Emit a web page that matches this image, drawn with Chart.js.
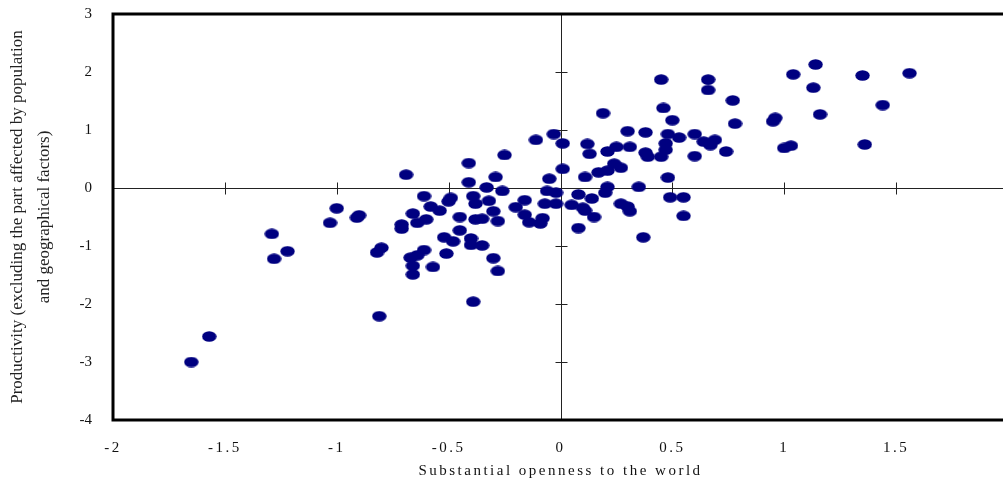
<!DOCTYPE html>
<html>
<head>
<meta charset="utf-8">
<script src="https://cdn.jsdelivr.net/npm/chart.js@4.4.0/dist/chart.umd.min.js"></script>
<style>
html, body { margin: 0; padding: 0; background: #fff; overflow: hidden; }
canvas { display: block; }
</style>
</head>
<body>
<canvas id="scatter" width="1020" height="488"></canvas>
<script>
// values, one entry per country
var openness = [
  -1.65, -1.57, -1.29, -1.22, -1.28, -1.00, -1.03, -0.90, -0.91, -0.80,
  -0.82, -0.81, -0.69, -0.61, -0.58, -0.66, -0.60, -0.64, -0.71, -0.71,
  -0.61, -0.64, -0.67, -0.66, -0.66, -0.57, -0.11, -0.25, -0.41, 0.01,
  -0.05, -0.29, -0.41, -0.33, -0.26, -0.06, -0.02, -0.49, -0.50, -0.39,
  -0.38, -0.32, -0.16, -0.20, -0.07, -0.02, -0.54, -0.30, -0.45, -0.38,
  -0.35, -0.28, -0.16, -0.14, -0.09, -0.08, -0.45, -0.52, -0.48, -0.40,
  -0.40, -0.35, -0.51, -0.30, -0.28, -0.39, 0.19, 0.01, -0.03, 0.30,
  0.38, 0.48, 0.53, 0.60, 0.12, 0.13, 0.21, 0.25, 0.31, 0.47,
  0.47, 0.38, 0.39, 0.45, 0.64, 0.67, 0.69, 0.60, 0.11, 0.17,
  0.21, 0.24, 0.27, 0.48, 0.35, 0.21, 0.20, 0.08, 0.14, 0.05,
  0.10, 0.11, 0.27, 0.30, 0.31, 0.49, 0.55, 0.55, 0.15, 0.08,
  0.37, 1.14, 1.04, 1.35, 1.56, 0.45, 0.66, 0.66, 1.13, 0.77,
  1.44, 0.46, 0.50, 0.78, 0.96, 0.95, 1.16, 0.74, 1.00, 1.03,
  1.36
];
var productivity = [
  -3.00, -2.56, -0.79, -1.09, -1.22, -0.35, -0.60, -0.47, -0.51, -1.03,
  -1.11, -2.21, 0.23, -0.14, -0.32, -0.44, -0.54, -0.60, -0.63, -0.70,
  -1.07, -1.16, -1.20, -1.34, -1.49, -1.36, 0.83, 0.57, 0.43, 0.33,
  0.16, 0.19, 0.10, 0.01, -0.05, -0.05, -0.08, -0.17, -0.23, -0.14,
  -0.27, -0.22, -0.21, -0.33, -0.27, -0.27, -0.39, -0.40, -0.50, -0.54,
  -0.53, -0.57, -0.46, -0.59, -0.61, -0.52, -0.73, -0.85, -0.92, -0.87,
  -0.98, -0.99, -1.13, -1.21, -1.43, -1.96, 1.29, 0.77, 0.93, 0.98,
  0.96, 0.93, 0.87, 0.93, 0.76, 0.59, 0.63, 0.71, 0.71, 0.77,
  0.66, 0.61, 0.54, 0.54, 0.80, 0.74, 0.83, 0.55, 0.19, 0.27,
  0.30, 0.42, 0.35, 0.18, 0.02, 0.02, -0.08, -0.11, -0.18, -0.29,
  -0.34, -0.39, -0.27, -0.32, -0.40, -0.16, -0.16, -0.48, -0.50, -0.69,
  -0.85, 2.13, 1.96, 1.94, 1.98, 1.87, 1.87, 1.69, 1.73, 1.51,
  1.43, 1.38, 1.17, 1.11, 1.21, 1.15, 1.27, 0.63, 0.69, 0.73,
  0.75
];
var x_ticks = [-2, -1.5, -1, -0.5, 0, 0.5, 1, 1.5, 2];
var y_ticks = [-4, -3, -2, -1, 0, 1, 2, 3];

var points = openness.map(function (x, i) {
  return {x: x, y: productivity[i]};
});

// the markers are flat ellipses, so draw one and use it as the point style
var dot = document.createElement('canvas');
dot.width = 15;
dot.height = 11;
var dctx = dot.getContext('2d');
dctx.fillStyle = '#000080';
dctx.beginPath();
dctx.ellipse(7.5, 5.5, 7.2, 5.3, 0, 0, Math.PI * 2);
dctx.fill();

var serif = "'Liberation Serif', 'Times New Roman', serif";

// zero cross lines with their tick marks, and the heavy frame
var cross_axes = {
  id: 'cross_axes',
  beforeDraw: function (chart) {
    chart.ctx.letterSpacing = '2.5px';   // x labels are spaced out
  },
  beforeDatasetsDraw: function (chart) {
    var ctx = chart.ctx;
    ctx.letterSpacing = '0px';
    var a = chart.chartArea;
    var xs = chart.scales.x;
    var ys = chart.scales.y;
    var x0 = Math.round(xs.getPixelForValue(0)) + 0.5;
    var y0 = Math.round(ys.getPixelForValue(0)) + 0.5;
    ctx.save();
    ctx.strokeStyle = '#222';
    ctx.lineWidth = 1;
    ctx.beginPath();
    ctx.moveTo(a.left, y0);
    ctx.lineTo(a.right, y0);
    ctx.moveTo(x0, a.top);
    ctx.lineTo(x0, a.bottom);
    x_ticks.forEach(function (v) {
      var p = Math.round(xs.getPixelForValue(v)) + 0.5;
      ctx.moveTo(p, y0 - 6);
      ctx.lineTo(p, y0 + 6);
    });
    y_ticks.forEach(function (v) {
      var p = Math.round(ys.getPixelForValue(v)) + 0.5;
      ctx.moveTo(x0 - 6, p);
      ctx.lineTo(x0 + 6, p);
    });
    ctx.stroke();
    ctx.lineWidth = 3;
    ctx.strokeStyle = '#000';
    ctx.strokeRect(a.left, a.top, a.right - a.left, a.bottom - a.top);
    ctx.restore();
  }
};

var scatter_chart = new Chart(document.getElementById('scatter'), {
  type: 'scatter',
  data: {
    datasets: [{
      data: points,
      pointStyle: dot,
      pointRadius: 7,
      showLine: false
    }]
  },
  options: {
    responsive: false,
    animation: false,
    events: [],
    layout: {padding: {left: 0, top: 14, right: 12, bottom: 0}},
    plugins: {
      legend: {display: false},
      tooltip: {enabled: false}
    },
    scales: {
      x: {
        type: 'linear',
        min: -2,
        max: 2,
        afterBuildTicks: function (s) {
          s.ticks = x_ticks.map(function (v) { return {value: v}; });
        },
        afterFit: function (s) {
          s.height = 68;
          s.paddingLeft = 0;
          s.paddingRight = 0;
        },
        grid: {display: false, drawTicks: false},
        border: {display: false},
        ticks: {
          padding: 19,
          color: '#111',
          font: {family: serif, size: 15},
          maxRotation: 0,
          autoSkip: false,
          callback: function (v) { return String(v); }
        },
        title: {
          display: true,
          text: 'Substantial openness to the world',
          color: '#111',
          font: {family: serif, size: 15},
          padding: {top: 0, bottom: 8}
        }
      },
      y: {
        type: 'linear',
        min: -4,
        max: 3,
        afterBuildTicks: function (s) {
          s.ticks = y_ticks.map(function (v) { return {value: v}; });
        },
        afterFit: function (s) {
          s.width = 113;
          s.paddingTop = 0;
          s.paddingBottom = 0;
        },
        grid: {display: false, drawTicks: false, z: 1},
        border: {display: false},
        ticks: {
          z: 1,
          padding: 21,
          color: '#111',
          font: {family: serif, size: 15},
          callback: function (v) { return String(v); }
        },
        title: {
          display: true,
          text: ['Productivity (excluding the part affected by population', 'and geographical factors)'],
          color: '#222',
          font: {family: serif, size: 17, lineHeight: 1.6},
          padding: {top: 4, bottom: 0}
        }
      }
    }
  },
  plugins: [cross_axes]
});
</script>
</body>
</html>
